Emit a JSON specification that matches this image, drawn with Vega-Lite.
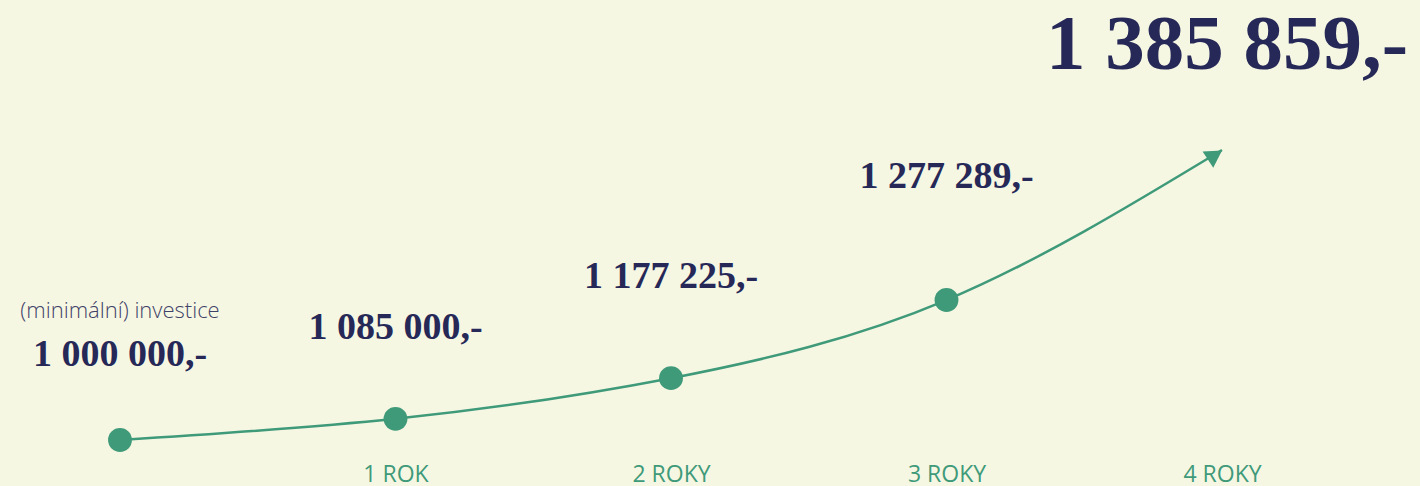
{
  "$schema": "https://vega.github.io/schema/vega-lite/v6.json",
  "width": 1420,
  "height": 486,
  "padding": 0,
  "autosize": {"type": "fit", "contains": "padding"},
  "background": "#f6f7e3",
  "config": {"view": {"stroke": null}},
  "data": {
    "values": [
      {"year": 0, "value": 1000000, "label": "1 000 000,-", "note": "(minimální) investice"},
      {"year": 1, "value": 1085000, "label": "1 085 000,-"},
      {"year": 2, "value": 1177225, "label": "1 177 225,-"},
      {"year": 3, "value": 1277289, "label": "1 277 289,-"},
      {"year": 4, "value": 1385859, "label": "1 385 859,-"}
    ]
  },
  "encoding": {
    "x": {
      "field": "year",
      "type": "quantitative",
      "scale": {"domain": [0, 4], "range": [120, 1222]},
      "axis": {
        "orient": "bottom",
        "values": [1, 2, 3, 4],
        "labelExpr": "datum.value == 1 ? '1 ROK' : datum.value + ' ROKY'",
        "labelFlush": false,
        "labelOverlap": false,
        "domain": false,
        "ticks": false,
        "grid": false,
        "title": null,
        "offset": -5,
        "labelPadding": 0,
        "labelBaseline": "alphabetic",
        "labelFont": "Open Sans",
        "labelFontSize": 23,
        "labelColor": "#3f9a7a",
        "labelFontWeight": "normal"
      }
    }
  },
  "layer": [
    {
      "mark": {"type": "line", "interpolate": "natural", "color": "#3f9a7a", "strokeWidth": 2.5},
      "encoding": {
        "y": {"field": "value", "type": "quantitative", "scale": {"type": "pow", "exponent": 8, "domain": [1000000, 1385859], "range": [440, 150]}, "axis": null}
      }
    },
    {
      "transform": [{"filter": "datum.year < 4"}],
      "mark": {"type": "circle", "color": "#3f9a7a", "opacity": 1, "size": 570},
      "encoding": {
        "y": {"field": "value", "type": "quantitative", "scale": {"type": "pow", "exponent": 8, "domain": [1000000, 1385859], "range": [440, 150]}, "axis": null}
      }
    },
    {
      "transform": [{"filter": "datum.year == 4"}],
      "mark": {"type": "point", "shape": "triangle-right", "filled": true, "color": "#3f9a7a", "opacity": 1, "size": 380, "angle": -33, "xOffset": -7, "yOffset": 5},
      "encoding": {
        "y": {"field": "value", "type": "quantitative", "scale": {"type": "pow", "exponent": 8, "domain": [1000000, 1385859], "range": [440, 150]}, "axis": null}
      }
    },
    {
      "transform": [{"filter": "datum.year < 4"}],
      "mark": {"type": "text", "font": "Liberation Serif", "fontWeight": "bold", "fontSize": 38, "color": "#262957", "baseline": "middle", "align": "center"},
      "encoding": {
        "y": {"field": "value", "type": "quantitative", "scale": {"type": "pow", "exponent": 8, "domain": [1000000, 1385859], "range": [355, -13]}, "axis": null},
        "text": {"field": "label"}
      }
    },
    {
      "transform": [{"filter": "datum.year == 0"}],
      "mark": {"type": "text", "font": "Open Sans", "fontWeight": 300, "fontSize": 22, "color": "#3f4268", "baseline": "middle", "align": "center", "dy": -44},
      "encoding": {
        "y": {"field": "value", "type": "quantitative", "scale": {"type": "pow", "exponent": 8, "domain": [1000000, 1385859], "range": [355, -13]}, "axis": null},
        "text": {"field": "note"}
      }
    },
    {
      "transform": [{"filter": "datum.year == 4"}],
      "mark": {"type": "text", "font": "Liberation Serif", "fontWeight": "bold", "fontSize": 79, "color": "#262957", "baseline": "middle", "align": "center", "dx": 5, "dy": -105},
      "encoding": {
        "y": {"field": "value", "type": "quantitative", "scale": {"type": "pow", "exponent": 8, "domain": [1000000, 1385859], "range": [440, 150]}, "axis": null},
        "text": {"field": "label"}
      }
    }
  ],
  "resolve": {"scale": {"y": "independent"}}
}
